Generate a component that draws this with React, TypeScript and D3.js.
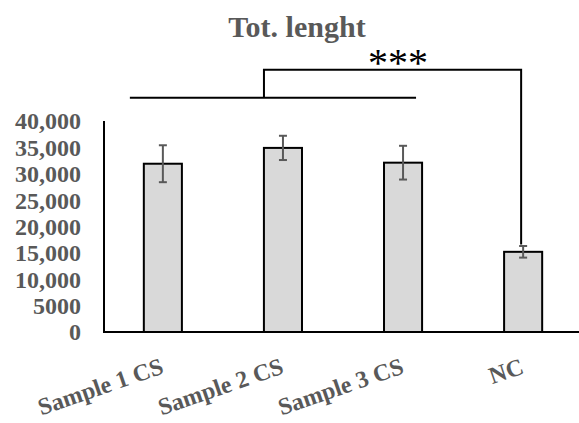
import React, { useEffect } from 'react';
import * as d3 from 'd3';

const categories = ['Sample 1 CS', 'Sample 2 CS', 'Sample 3 CS', 'NC'];
const means = [31900, 34900, 32100, 15200];
const errors = [3500, 2300, 3200, 1100];
const yTicks = [0, 5000, 10000, 15000, 20000, 25000, 30000, 35000, 40000];

// significance bracket levels (data units)
const bracketLow = 44400;
const bracketHigh = 49700;

const W = 579;
const H = 423;
const gray = '#595959';
const serif = '"Liberation Serif", "Times New Roman", serif';

export default function App() {
  useEffect(() => {
    document.body.style.margin = '0';
  }, []);

  const x = d3.scaleBand<string>().domain(categories).range([103, 583]).paddingInner(0.683).paddingOuter(0.34);
  const y = d3.scaleLinear().domain([0, 40000]).range([332, 121]);
  const cx = (c: string) => (x(c) as number) + x.bandwidth() / 2;
  const fmt = (d: number) => (d >= 10000 ? d3.format(',')(d) : String(d));

  const c1 = cx(categories[0]);
  const c2 = cx(categories[1]);
  const c3 = cx(categories[2]);
  const c4 = cx(categories[3]);
  const ncTop = y(means[3] + errors[3] + 300);

  return (
    <svg width={W} height={H} style={{ display: 'block', background: '#fff' }}>
      <text x={297} y={37} textAnchor="middle" fontFamily={serif} fontWeight="bold" fontSize={30} fill={gray}>
        Tot. lenght
      </text>

      {/* bars */}
      {categories.map((c, i) => (
        <rect
          key={c}
          x={x(c)}
          y={y(means[i])}
          width={x.bandwidth()}
          height={y(0) - y(means[i])}
          fill="#d9d9d9"
          stroke="#000"
          strokeWidth={2}
        />
      ))}

      {/* error bars */}
      {categories.map((c, i) => {
        const xc = cx(c);
        const t = y(means[i] + errors[i]);
        const b = y(means[i] - errors[i]);
        return (
          <g key={c} stroke={gray} strokeWidth={2}>
            <line x1={xc} x2={xc} y1={t} y2={b} />
            <line x1={xc - 4} x2={xc + 4} y1={t} y2={t} />
            <line x1={xc - 4} x2={xc + 4} y1={b} y2={b} />
          </g>
        );
      })}

      {/* axes */}
      <line x1={104} x2={104} y1={y(40000)} y2={y(0) + 1} stroke="#000" strokeWidth={2} />
      <line x1={103} x2={W} y1={y(0)} y2={y(0)} stroke="#000" strokeWidth={2} />

      {yTicks.map(t => (
        <text
          key={t}
          x={81}
          y={y(t)}
          dy="0.35em"
          textAnchor="end"
          fontFamily={serif}
          fontWeight="bold"
          fontSize={24}
          fill={gray}
        >
          {fmt(t)}
        </text>
      ))}

      {categories.map(c => (
        <text
          key={c}
          transform={`translate(${cx(c) + 2},373) rotate(-19)`}
          textAnchor="end"
          fontFamily={serif}
          fontWeight="bold"
          fontSize={24}
          fill={gray}
        >
          {c}
        </text>
      ))}

      {/* significance bracket */}
      <g stroke="#000" strokeWidth={2} fill="none">
        <line x1={c1 - 33} x2={c3 + 13} y1={y(bracketLow)} y2={y(bracketLow)} />
        <polyline points={`${c2 - 19},${y(bracketLow)} ${c2 - 19},${y(bracketHigh)} ${c4 - 2},${y(bracketHigh)} ${c4 - 2},${ncTop}`} />
      </g>
      <text x={398} y={76} textAnchor="middle" fontFamily={serif} fontSize={40} fill="#000">
        ***
      </text>
    </svg>
  );
}
